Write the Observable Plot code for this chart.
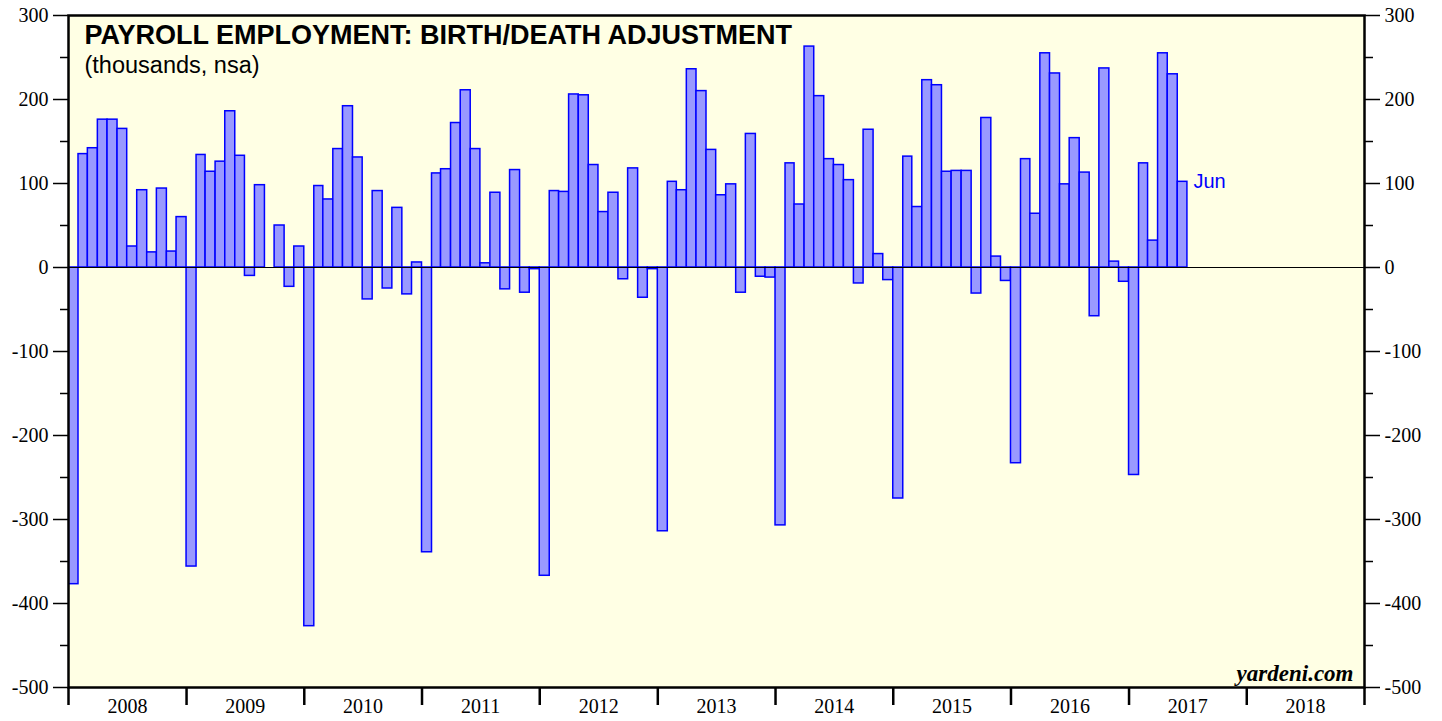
<!DOCTYPE html>
<html><head><meta charset="utf-8">
<script src="https://cdn.jsdelivr.net/npm/d3@7"></script>
<script src="https://cdn.jsdelivr.net/npm/@observablehq/plot@0.6"></script>
<style>html,body{margin:0;padding:0;background:#fff;}</style>
</head><body><div id="chart"></div>
<script>
// ---- text ----
const title = "PAYROLL EMPLOYMENT: BIRTH/DEATH ADJUSTMENT";
const subtitle = "(thousands, nsa)";
const credit = "yardeni.com";
const lastLabel = "Jun";

// ---- data: monthly birth/death adjustment, thousands, nsa ----
const firstMonth = "2007-12-01";
const v2007 = [71]; // Dec only (clipped at left edge)
const v2008 = [-377, 135, 142, 176, 176, 165, 25, 92, 18, 94, 19, 60];
const v2009 = [-356, 134, 114, 126, 186, 133, -10, 98, 0, 50, -23, 25];
const v2010 = [-427, 97, 81, 141, 192, 131, -38, 91, -25, 71, -32, 6];
const v2011 = [-339, 112, 117, 172, 211, 141, 5, 89, -26, 116, -30, -2];
const v2012 = [-367, 91, 90, 206, 205, 122, 66, 89, -14, 118, -36, -2];
const v2013 = [-314, 102, 92, 236, 210, 140, 86, 99, -30, 159, -11, -12];
const v2014 = [-307, 124, 75, 263, 204, 129, 122, 104, -19, 164, 16, -15];
const v2015 = [-275, 132, 72, 223, 217, 114, 115, 115, -31, 178, 13, -16];
const v2016 = [-233, 129, 64, 255, 231, 99, 154, 113, -58, 237, 7, -17];
const v2017 = [-247, 124, 32, 255, 230, 102];

// ---- axes ----
const yearLabels = [2008, 2009, 2010, 2011, 2012, 2013, 2014, 2015, 2016, 2017, 2018];
const yMajor = [-500, -400, -300, -200, -100, 0, 100, 200, 300];
const yMinor = [-450, -350, -250, -150, -50, 50, 150, 250];

const values = [].concat(v2007, v2008, v2009, v2010, v2011, v2012, v2013, v2014, v2015, v2016, v2017);
const start0 = new Date(firstMonth + "T00:00:00Z");
const data = values.map((v, i) => ({
  start: d3.utcMonth.offset(start0, i),
  end: d3.utcMonth.offset(start0, i + 1),
  value: v
}));
const last = data[data.length - 1];

const yearStarts = yearLabels.concat([yearLabels[yearLabels.length - 1] + 1]).map(y => new Date(Date.UTC(y, 0, 1)));
const yearMids = yearLabels.map(y => new Date(Date.UTC(y, 6, 2)));

const serif = "'Liberation Serif', 'Times New Roman', serif";
const sans = "'Liberation Sans', Arial, Helvetica, sans-serif";

const chart = Plot.plot({
  width: 1442,
  height: 721,
  marginLeft: 68,
  marginRight: 78,
  marginTop: 15,
  marginBottom: 34,
  style: {fontFamily: serif, fontSize: "20px", background: "#fff", color: "#000"},
  x: {type: "utc", domain: [yearStarts[0], yearStarts[yearStarts.length - 1]], label: null},
  y: {domain: [-500, 300], label: null},
  marks: [
    Plot.frame({fill: "#ffffe4", stroke: null}),
    Plot.rectY(data, {x1: "start", x2: "end", y: "value", fill: "#9999ff", stroke: "#0000ff", strokeWidth: 1.5, clip: true}),
    Plot.ruleY([0], {stroke: "#000", strokeWidth: 1.2}),
    // y axes left & right
    Plot.axisY({anchor: "left", label: null, ticks: yMinor, tickSize: 8, strokeWidth: 1.5, tickFormat: () => ""}),
    Plot.axisY({anchor: "left", label: null, ticks: yMajor, tickSize: 15, tickPadding: 5, strokeWidth: 1.5, tickFormat: d => String(d), fontSize: 20}),
    Plot.axisY({anchor: "right", label: null, ticks: yMinor, tickSize: 8, strokeWidth: 1.5, tickFormat: () => ""}),
    Plot.axisY({anchor: "right", label: null, ticks: yMajor, tickSize: 15, tickPadding: 5, strokeWidth: 1.5, tickFormat: d => String(d), fontSize: 20}),
    // x axis: year boundaries + centered year labels
    Plot.axisX({label: null, ticks: yearStarts, tickSize: 18, strokeWidth: 2.5, tickFormat: () => ""}),
    Plot.axisX({label: null, ticks: yearMids, tickSize: 0, tickPadding: 11, tickFormat: d => String(d.getUTCFullYear()), fontSize: 20}),
    // titles
    Plot.text([title], {frameAnchor: "top-left", dx: 16, dy: 9, lineAnchor: "top", textAnchor: "start", fontFamily: sans, fontWeight: "bold", fontSize: 27, fill: "#000"}),
    Plot.text([subtitle], {frameAnchor: "top-left", dx: 16, dy: 41, lineAnchor: "top", textAnchor: "start", fontFamily: sans, fontSize: 23.5, fill: "#000"}),
    Plot.text([credit], {frameAnchor: "bottom-right", dx: -11, dy: -7, lineAnchor: "bottom", textAnchor: "end", fontFamily: serif, fontWeight: "bold", fontStyle: "italic", fontSize: 23, fill: "#000"}),
    Plot.text([last], {x: "end", y: "value", text: () => lastLabel, dx: 6, textAnchor: "start", fill: "#0000ff", fontFamily: sans, fontSize: 20}),
    Plot.frame({stroke: "#000", strokeWidth: 2.5})
  ]
});
document.getElementById("chart").append(chart);
</script>
</body></html>
